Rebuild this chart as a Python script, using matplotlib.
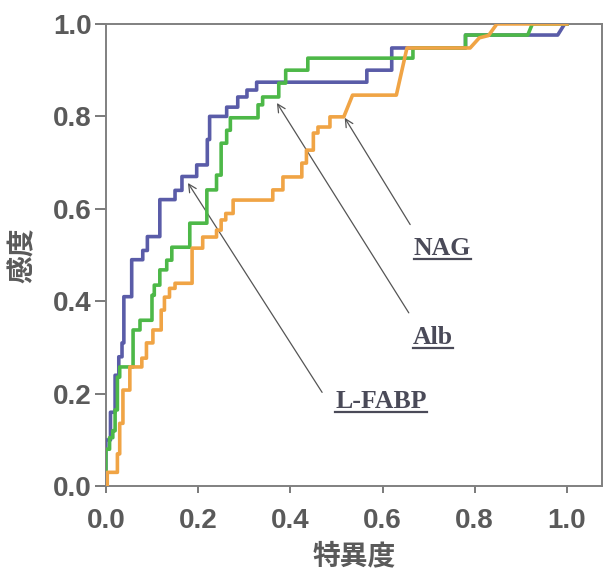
import matplotlib
matplotlib.use('Agg')
import matplotlib.pyplot as plt
from matplotlib.lines import Line2D

# ROC curve vertices (1 - specificity, sensitivity)
lfabp_x = [0.0, 0.0, 0.01, 0.01, 0.02, 0.02, 0.028, 0.028, 0.035, 0.035, 0.039, 0.039,
           0.056, 0.056, 0.08, 0.08, 0.09, 0.09, 0.117, 0.117, 0.15, 0.15, 0.165, 0.165,
           0.197, 0.197, 0.22, 0.22, 0.225, 0.225, 0.262, 0.262, 0.286, 0.286, 0.306, 0.306,
           0.327, 0.327, 0.566, 0.566, 0.62, 0.62, 0.78, 0.78, 0.98, 0.995, 1.0]
lfabp_y = [0.0, 0.10, 0.10, 0.16, 0.16, 0.24, 0.24, 0.28, 0.28, 0.31, 0.31, 0.41,
           0.41, 0.49, 0.49, 0.51, 0.51, 0.54, 0.54, 0.62, 0.62, 0.64, 0.64, 0.67,
           0.67, 0.695, 0.695, 0.75, 0.75, 0.80, 0.80, 0.82, 0.82, 0.842, 0.842, 0.857,
           0.857, 0.874, 0.874, 0.90, 0.90, 0.948, 0.948, 0.976, 0.976, 1.0, 1.0]

alb_x = [0.0, 0.0, 0.008, 0.008, 0.015, 0.015, 0.02, 0.02, 0.025, 0.025, 0.03, 0.03,
         0.059, 0.059, 0.074, 0.074, 0.1, 0.1, 0.105, 0.105, 0.117, 0.117, 0.132, 0.132,
         0.143, 0.143, 0.182, 0.182, 0.219, 0.219, 0.24, 0.24, 0.25, 0.25, 0.262, 0.262,
         0.27, 0.27, 0.33, 0.33, 0.34, 0.34, 0.375, 0.375, 0.39, 0.39, 0.438, 0.438,
         0.666, 0.666, 0.78, 0.78, 0.915, 0.925, 1.0]
alb_y = [0.0, 0.08, 0.08, 0.105, 0.105, 0.12, 0.12, 0.165, 0.165, 0.236, 0.236, 0.258,
         0.258, 0.338, 0.338, 0.359, 0.359, 0.413, 0.413, 0.435, 0.435, 0.468, 0.468, 0.489,
         0.489, 0.517, 0.517, 0.569, 0.569, 0.641, 0.641, 0.673, 0.673, 0.742, 0.742, 0.77,
         0.77, 0.797, 0.797, 0.825, 0.825, 0.842, 0.842, 0.872, 0.872, 0.90, 0.90, 0.926,
         0.926, 0.948, 0.948, 0.976, 0.976, 1.0, 1.0]

nag_x = [0.0, 0.003, 0.003, 0.025, 0.025, 0.03, 0.03, 0.037, 0.037, 0.052, 0.052, 0.078,
         0.078, 0.088, 0.088, 0.102, 0.102, 0.12, 0.12, 0.127, 0.127, 0.138, 0.138, 0.15,
         0.15, 0.187, 0.187, 0.21, 0.21, 0.24, 0.24, 0.25, 0.25, 0.26, 0.26, 0.276,
         0.276, 0.362, 0.362, 0.384, 0.384, 0.425, 0.425, 0.435, 0.435, 0.45, 0.45, 0.46,
         0.46, 0.486, 0.486, 0.516, 0.535, 0.63, 0.653, 0.79, 0.81, 0.83, 0.848, 1.0]
nag_y = [0.0, 0.0, 0.03, 0.03, 0.07, 0.07, 0.136, 0.136, 0.208, 0.208, 0.258, 0.258,
         0.277, 0.277, 0.31, 0.31, 0.338, 0.338, 0.381, 0.381, 0.409, 0.409, 0.428, 0.428,
         0.439, 0.439, 0.515, 0.515, 0.539, 0.539, 0.554, 0.554, 0.576, 0.576, 0.59, 0.59,
         0.619, 0.619, 0.641, 0.641, 0.669, 0.669, 0.699, 0.699, 0.727, 0.727, 0.764, 0.764,
         0.777, 0.777, 0.799, 0.799, 0.846, 0.846, 0.948, 0.948, 0.97, 0.975, 1.0, 1.0]

ticks = [0.0, 0.2, 0.4, 0.6, 0.8, 1.0]
tick_labels = ['0.0', '0.2', '0.4', '0.6', '0.8', '1.0']

# label text, arrow tip (on curve), arrow tail, text position
labels = ['NAG', 'Alb', 'L-FABP']
tips = [(0.518, 0.797), (0.371, 0.829), (0.178, 0.656)]
tails = [(0.66, 0.566), (0.657, 0.375), (0.469, 0.203)]
text_pos = [(0.668, 0.50), (0.666, 0.307), (0.497, 0.169)]

fig = plt.figure(figsize=(6.05, 5.7), dpi=100)
ax = fig.add_axes([0.175, 0.147, 0.82, 0.811])

ax.plot(lfabp_x, lfabp_y, color='#5a5ca8', lw=2.6, zorder=3)
ax.plot(alb_x, alb_y, color='#4db848', lw=2.6, zorder=4)
ax.plot(nag_x, nag_y, color='#f0a445', lw=2.6, zorder=5)

ax.set_xlim(0, 1.076)
ax.set_ylim(0, 1.0)
ax.set_xticks(ticks)
ax.set_xticklabels(tick_labels)
ax.set_yticks(ticks)
ax.set_yticklabels(tick_labels)
for sp in ax.spines.values():
    sp.set_color('#808080')
    sp.set_linewidth(1.4)
ax.tick_params(axis='x', length=5, width=1.3, color='#707070', pad=11,
               labelsize=20, labelcolor='#5a5a5a')
ax.tick_params(axis='y', length=8, width=1.3, color='#707070', pad=2,
               labelsize=20, labelcolor='#5a5a5a')
for lab in ax.get_xticklabels() + ax.get_yticklabels():
    lab.set_family('Liberation Sans')
    lab.set_weight('bold')

ax.set_xlabel('特異度', family=['Noto Sans CJK JP', 'DejaVu Sans'], fontsize=20,
              fontweight='bold', color='#5a5a5a', labelpad=6)
ax.set_ylabel('感度', family=['Noto Sans CJK JP', 'DejaVu Sans'], fontsize=20,
              fontweight='bold', color='#5a5a5a', labelpad=12)

texts = []
for name, tip, tail, pos in zip(labels, tips, tails, text_pos):
    ax.annotate('', xy=tip, xytext=tail,
                arrowprops=dict(arrowstyle='->', color='#555555', lw=0.9,
                                shrinkA=0, shrinkB=0, mutation_scale=14))
    t = ax.text(pos[0], pos[1], name, family='Liberation Serif', fontweight='bold',
                fontsize=18.5, color='#4a4a58', ha='left', va='baseline', zorder=6)
    texts.append(t)

# underline each label
fig.canvas.draw()
renderer = fig.canvas.get_renderer()
inv = fig.transFigure.inverted()
for t in texts:
    bb = t.get_window_extent(renderer)
    (x0, y0), (x1, y1) = inv.transform([[bb.x0, bb.y0 + 1], [bb.x1, bb.y0 + 1]])
    fig.add_artist(Line2D([x0, x1], [y0, y1], transform=fig.transFigure,
                          color='#4a4a58', lw=1.6))

plt.savefig('out.png', dpi=100)
